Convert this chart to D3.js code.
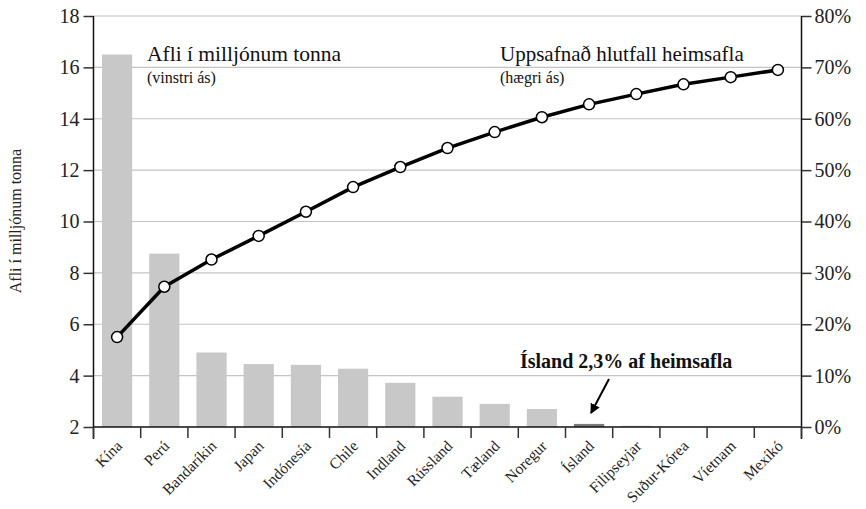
<!DOCTYPE html>
<html><head><meta charset="utf-8">
<script src="https://cdn.jsdelivr.net/npm/d3@7"></script>
<style>
body{margin:0;background:#fff;}
svg text{font-family:"Liberation Serif","Times New Roman","DejaVu Serif",serif !important;}
</style></head>
<body><svg id="chart" width="866" height="509"></svg>
<script>
const categories = ["Kína","Perú","Bandaríkin","Japan","Indónesía","Chile","Indland","Rússland","Tæland","Noregur","Ísland","Filipseyjar","Suður-Kórea","Víetnam","Mexíkó"];
const catch_mt = [16.5,8.75,4.9,4.45,4.42,4.27,3.72,3.18,2.9,2.7,2.12,2.05,1.9,1.8,1.7];
const cumShare = [0.175,0.273,0.326,0.372,0.419,0.467,0.506,0.543,0.574,0.603,0.628,0.648,0.667,0.681,0.695];
const leftTicks = [2,4,6,8,10,12,14,16,18];
const rightTicks = [0,0.1,0.2,0.3,0.4,0.5,0.6,0.7,0.8];
const highlight = "Ísland";
const FONT = "'Liberation Serif','Times New Roman','DejaVu Serif',serif";

const svg = d3.select("#chart").style("font-family",FONT);
const L = 93.5, R = 801.5, T = 16, B = 427;

const x = d3.scaleBand().domain(categories).range([L,R]).paddingInner(0.36).paddingOuter(0.18);
const y = d3.scaleLinear().domain([2,18]).range([B,T]);
const yR = d3.scaleLinear().domain([0,0.8]).range([B,T]);

// gridlines
svg.append("g").selectAll("line").data(leftTicks.filter(d=>d>2)).join("line")
  .attr("x1",L).attr("x2",R).attr("y1",d=>y(d)).attr("y2",d=>y(d))
  .attr("stroke","#c4c4c4").attr("stroke-width",1.2);

// bars
svg.append("g").selectAll("rect").data(categories.map((c,i)=>({c,v:catch_mt[i]})).filter(d=>d.v>2)).join("rect")
  .attr("x",d=>x(d.c)).attr("width",x.bandwidth())
  .attr("y",d=>y(d.v)).attr("height",d=>B-y(d.v))
  .attr("fill",d=>d.c===highlight?"#7a7a7a":"#c8c8c8");

// axes
const ax = svg.append("g").attr("transform",`translate(${L},0)`)
  .call(d3.axisLeft(y).tickValues(leftTicks).tickSize(10).tickFormat(d3.format("d")));
ax.attr("font-family",null).style("font-family",FONT);
ax.select(".domain").remove();
ax.selectAll(".tick line").attr("stroke","#333").attr("stroke-width",1.5);
ax.selectAll(".tick text").attr("font-size",20).attr("fill","#222").attr("x",-14).style("font-family",FONT);

const axR = svg.append("g").attr("transform",`translate(${R},0)`)
  .call(d3.axisRight(yR).tickValues(rightTicks).tickSize(10).tickFormat(d3.format(".0%")));
axR.attr("font-family",null).style("font-family",FONT);
axR.select(".domain").remove();
axR.selectAll(".tick line").attr("stroke","#333").attr("stroke-width",1.5);
axR.selectAll(".tick text").attr("font-size",20).attr("fill","#222").attr("x",13).style("font-family",FONT);

// vertical axis lines
svg.append("line").attr("x1",L).attr("x2",L).attr("y1",T).attr("y2",B+12).attr("stroke","#111").attr("stroke-width",1.5);
svg.append("line").attr("x1",R).attr("x2",R).attr("y1",T).attr("y2",B+12).attr("stroke","#111").attr("stroke-width",1.5);
// baseline
svg.append("line").attr("x1",L).attr("x2",R).attr("y1",B).attr("y2",B).attr("stroke","#111").attr("stroke-width",1.5);
// x ticks at band boundaries
const bounds = d3.range(categories.length+1).map(i=>L+i*x.step());
svg.append("g").selectAll("line").data(bounds).join("line")
  .attr("x1",d=>d).attr("x2",d=>d).attr("y1",B).attr("y2",B+11)
  .attr("stroke","#333").attr("stroke-width",1.5);
// x labels
svg.append("g").selectAll("text").data(categories).join("text")
  .attr("transform",d=>`translate(${x(d)+x.bandwidth()/2+6},${B+20}) rotate(-45)`)
  .attr("text-anchor","end").attr("font-size",15.5).attr("fill","#222").style("font-family",FONT).text(d=>d);

// line
const pts = categories.map((c,i)=>[x(c)+x.bandwidth()/2, yR(cumShare[i])]);
svg.append("path").attr("d",d3.line()(pts)).attr("fill","none").attr("stroke","#000").attr("stroke-width",3.5).attr("stroke-linejoin","round");
svg.append("g").selectAll("circle").data(pts).join("circle")
  .attr("cx",d=>d[0]).attr("cy",d=>d[1]).attr("r",5.5)
  .attr("fill","#fff").attr("stroke","#000").attr("stroke-width",1.5);

// y-axis title
svg.append("text").attr("transform","translate(21,221) rotate(-90)").attr("text-anchor","middle")
  .attr("font-size",16).attr("fill","#222").style("font-family",FONT).text("Afli í milljónum tonna");

// annotations
const ann = (t,xx,yy,fs,bold)=>svg.append("text").attr("x",xx).attr("y",yy).attr("font-size",fs)
  .attr("font-weight",bold?"bold":"normal").attr("fill","#111").style("font-family",FONT).text(t);
ann("Afli í milljónum tonna",147,61,21.5);
ann("(vinstri ás)",147,83,16);
ann("Uppsafnað hlutfall heimsafla",500,61,21);
ann("(hægri ás)",500,83,16);
ann("Ísland 2,3% af heimsafla",520,368,20,true);

// arrow
svg.append("defs").append("marker").attr("id","ah").attr("viewBox","0 0 10 10").attr("refX",9).attr("refY",5)
  .attr("markerWidth",5).attr("markerHeight",5).attr("orient","auto")
  .append("path").attr("d","M0,0L10,5L0,10z").attr("fill","#000");
svg.append("line").attr("x1",609).attr("y1",379).attr("x2",591).attr("y2",413)
  .attr("stroke","#000").attr("stroke-width",2).attr("marker-end","url(#ah)");
</script></body></html>
